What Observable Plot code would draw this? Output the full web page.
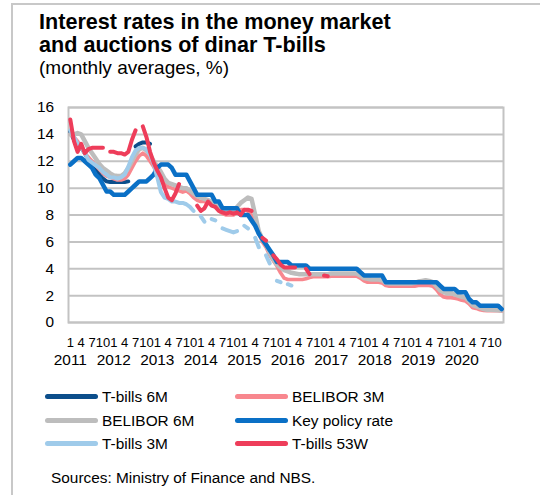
<!DOCTYPE html>
<html>
<head>
<meta charset="utf-8">
<script src="https://cdn.jsdelivr.net/npm/d3@7"></script>
<script src="https://cdn.jsdelivr.net/npm/@observablehq/plot@0.6"></script>
<style>
html,body{margin:0;padding:0;background:#fff;}
#fig{position:relative;width:540px;height:495px;overflow:hidden;font-family:"Liberation Sans",Arial,Helvetica,sans-serif;color:#000;}
#border{position:absolute;left:11px;top:3px;width:600px;height:600px;border-left:2px solid #c8c8c8;border-top:2px solid #c8c8c8;box-sizing:border-box;}
.t{position:absolute;white-space:nowrap;}
#title{left:39px;top:10px;font-size:21.6px;line-height:23px;font-weight:bold;}
#subtitle{left:39px;top:57.9px;font-size:19px;line-height:19px;}
#chart{position:absolute;left:0;top:95px;}
.leg{position:absolute;white-space:nowrap;font-size:15.4px;line-height:15.4px;}
.sw{position:absolute;height:5px;border-radius:2.5px;width:53px;}
#source{left:51px;top:470px;font-size:15.4px;line-height:15.4px;}
</style>
</head>
<body>
<div id="fig">
  <div id="border"></div>
  <div id="title" class="t">Interest rates in the money market<br>and auctions of dinar T-bills</div>
  <div id="subtitle" class="t">(monthly averages, %)</div>
  <div id="chart"></div>
  <div id="legend"></div>
  <div id="source" class="t">Sources: Ministry of Finance and NBS.</div>
</div>
<script>
// ---- Data: monthly, Jan 2011 .. Dec 2020 (120 months) ----
const years = ["2011","2012","2013","2014","2015","2016","2017","2018","2019","2020"];
const monthTickLabels = ["1","4","7","10"];
const yTicks = [0,2,4,6,8,10,12,14,16];
const N = null;

const tbills6M = [
  14.2,13.6,13.2,13.0,12.6,12.1,11.8,11.4,11.0,10.7,10.5,10.45,
  10.45,10.45,10.45,10.45,10.5,N,13.1,13.3,13.4,13.4,13.3,N,
  N,N,N,N,N,N,N,N,N,N,N,N,
  N,N,N,N,N,N,N,N,N,N,N,N,
  N,N,N,N,N,N,N,N,N,N,N,N,
  N,N,N,N,N,N,N,N,N,N,N,N,
  N,N,N,N,N,N,N,N,N,N,N,N,
  N,N,N,N,N,N,N,N,N,N,N,N,
  N,N,N,N,N,N,N,N,N,N,N,N,
  N,N,N,N,N,N,N,N,N,N,N,N
];
const belibor3M = [
  14.0,13.8,13.5,13.0,12.6,12.3,12.0,11.7,11.4,11.1,10.9,10.8,
  10.7,10.6,10.6,10.7,11.0,11.5,12.0,12.4,12.6,12.4,12.0,11.6,
  11.0,10.6,10.3,10.1,10.0,9.9,9.8,9.7,9.8,9.6,9.3,9.1,
  9.0,9.0,8.9,8.8,8.6,8.3,8.1,8.0,8.0,8.0,8.2,8.4,
  8.4,8.3,8.0,7.4,6.6,6.0,5.6,5.0,4.6,4.2,3.7,3.3,
  3.2,3.2,3.2,3.2,3.2,3.25,3.35,3.4,3.4,3.4,3.4,3.4,
  3.45,3.45,3.45,3.45,3.45,3.45,3.45,3.45,3.3,3.1,3.0,3.0,
  3.0,3.0,2.95,2.75,2.7,2.7,2.7,2.7,2.7,2.7,2.7,2.7,
  2.75,2.75,2.75,2.75,2.7,2.45,2.1,1.9,1.85,1.85,1.8,1.75,
  1.65,1.6,1.4,1.1,1.05,0.95,0.9,0.88,0.87,0.87,0.87,0.85
];
const belibor6M = [
  14.0,14.0,14.1,14.0,13.5,13.0,12.6,12.2,11.8,11.5,11.3,11.1,
  10.95,10.9,10.9,11.1,11.5,12.0,12.5,12.9,13.0,12.8,12.5,12.0,
  11.6,11.2,10.7,10.4,10.3,10.2,10.1,10.0,10.0,9.8,9.6,9.4,
  9.3,9.2,9.1,9.0,8.8,8.5,8.3,8.2,8.2,8.2,8.6,8.9,
  9.1,9.3,9.2,8.0,6.8,6.2,5.8,5.2,4.7,4.3,4.1,3.9,
  3.8,3.7,3.65,3.6,3.6,3.6,3.6,3.6,3.6,3.6,3.6,3.6,
  3.65,3.65,3.65,3.65,3.65,3.65,3.65,3.65,3.5,3.3,3.25,3.2,
  3.2,3.2,3.15,2.95,2.9,2.9,2.9,2.9,2.9,2.9,2.9,2.95,
  3.05,3.1,3.15,3.1,3.0,2.7,2.4,2.25,2.2,2.2,2.1,2.0,
  1.9,1.85,1.6,1.3,1.2,1.1,1.0,0.95,0.95,0.93,0.92,0.9
];
const keyPolicyRate = [
  11.75,12.0,12.25,12.25,12.0,11.75,11.5,11.0,10.75,10.25,9.75,9.75,
  9.5,9.5,9.5,9.5,9.75,10.0,10.25,10.5,10.5,10.5,10.75,11.0,
  11.5,11.75,11.75,11.75,11.5,11.0,11.0,11.0,11.0,10.5,10.0,9.5,
  9.5,9.5,9.5,9.5,9.0,9.0,8.5,8.5,8.5,8.5,8.5,8.0,
  8.0,8.0,7.6,7.2,6.6,6.2,5.8,5.4,5.0,4.5,4.5,4.5,
  4.5,4.25,4.25,4.25,4.25,4.25,4.0,4.0,4.0,4.0,4.0,4.0,
  4.0,4.0,4.0,4.0,4.0,4.0,4.0,4.0,3.75,3.5,3.5,3.5,
  3.5,3.5,3.5,3.0,3.0,3.0,3.0,3.0,3.0,3.0,3.0,3.0,
  3.0,3.0,3.0,3.0,3.0,3.0,2.75,2.5,2.5,2.5,2.5,2.25,
  2.25,2.25,1.75,1.5,1.5,1.25,1.25,1.25,1.25,1.25,1.25,1.0
];
const tbills3M = [
  14.3,13.8,13.3,13.0,12.6,12.1,11.9,11.7,11.5,11.2,11.0,10.8,
  10.8,10.7,10.8,11.0,11.6,12.3,12.8,13.0,13.0,12.9,12.5,11.8,
  10.8,9.7,9.3,9.2,9.0,9.0,8.9,8.9,8.8,8.6,8.3,N,
  7.9,7.5,N,7.7,7.6,N,7.0,6.9,6.8,6.7,6.8,N,
  7.2,7.0,N,6.3,5.6,N,5.0,4.4,N,3.1,3.0,N,
  2.85,2.75,N,N,N,N,N,N,N,N,N,N,
  N,N,N,N,N,N,N,N,N,N,N,N,
  N,N,N,N,N,N,N,N,N,N,N,N,
  N,N,N,N,N,N,N,N,N,N,N,N,
  N,N,N,N,N,N,N,N,N,N,N,N
];
const tbills53W = [
  15.1,13.5,12.7,13.3,12.6,12.9,13.0,13.0,13.0,13.0,N,12.7,
  12.7,12.6,12.6,12.5,12.7,13.6,14.3,N,14.6,13.8,12.7,11.9,
  11.3,10.8,10.0,9.3,9.1,9.6,10.3,N,N,N,N,8.7,
  8.3,8.5,9.0,8.7,8.6,8.3,8.2,8.1,8.2,8.1,8.2,8.0,
  8.4,8.4,8.3,N,N,6.3,6.1,N,5.0,4.7,4.3,4.1,
  4.1,4.1,4.1,N,N,4.0,3.6,N,N,N,3.5,3.45,
  N,N,N,N,N,N,N,N,N,N,N,N,
  N,N,N,N,N,N,N,N,N,N,N,N,
  N,N,N,N,N,N,N,N,N,N,N,N,
  N,N,N,N,N,N,N,N,N,N,N,N
];

const series = [
  {name:"T-bills 6M",      values:tbills6M,      color:"#0c4e8b", width:4},
  {name:"BELIBOR 3M",      values:belibor3M,     color:"#f8878e", width:3.6},
  {name:"BELIBOR 6M",      values:belibor6M,     color:"#bdbdbd", width:4.5},
  {name:"Key policy rate", values:keyPolicyRate, color:"#0a70c6", width:4.5},
  {name:"T-bills 3M",      values:tbills3M,      color:"#9fcbea", width:4},
  {name:"T-bills 53W",     values:tbills53W,     color:"#ee3d5a", width:4}
];

const months = d3.range(120);
const xTicks = d3.range(0, 120, 3);
const fs = 15.4;

const marks = [
  Plot.ruleY(yTicks, {stroke:"#c3c3c3", strokeWidth:2}),
  Plot.frame({stroke:"#c3c3c3", strokeWidth:2})
];
for (const s of series) {
  marks.push(Plot.line(months, {
    x: d => d,
    y: d => s.values[d],
    stroke: s.color,
    strokeWidth: s.width,
    strokeLinecap: "round",
    strokeLinejoin: "round"
  }));
}
// month tick labels (1, 4, 7, 10) under the frame
marks.push(Plot.text(xTicks, {
  x: d => d,
  text: d => monthTickLabels[(d % 12) / 3],
  frameAnchor: "bottom",
  lineAnchor: "top",
  dy: 15,
  fontSize: 13,
  fill: "#000"
}));
// year labels under January
marks.push(Plot.text(years, {
  x: (d, i) => i * 12,
  text: d => d,
  frameAnchor: "bottom",
  lineAnchor: "top",
  dy: 32,
  fontSize: fs,
  fill: "#000"
}));

const chart = Plot.plot({
  width: 540,
  height: 280,
  marginLeft: 68,
  marginRight: 37,
  marginTop: 12,
  marginBottom: 53,
  style: {fontFamily: "'Liberation Sans', Arial, sans-serif", fontSize: fs + "px", color: "#000", background: "transparent", overflow: "visible"},
  x: {domain: [-0.5, 119.5], axis: null},
  y: {domain: [0, 16], ticks: yTicks, tickSize: 0, tickPadding: 14.5, label: null},
  marks
});
document.getElementById("chart").appendChild(chart);

// ---- Legend ----
const legend = document.getElementById("legend");
const rowCenters = [396.8, 420.2, 443.6];
const colSwatchX = [45, 235];
const colTextX = [102, 292];
const legendOrder = [[0,1],[2,3],[4,5]];
legendOrder.forEach((row, r) => {
  row.forEach((si, c) => {
    const s = series[si];
    const sw = document.createElement("div");
    sw.className = "sw";
    sw.style.left = colSwatchX[c] + "px";
    sw.style.top = (rowCenters[r] - 2.5) + "px";
    sw.style.background = s.color;
    legend.appendChild(sw);
    const t = document.createElement("div");
    t.className = "leg";
    t.style.left = colTextX[c] + "px";
    t.style.top = (rowCenters[r] + 5.5 - 13.04) + "px";
    t.textContent = s.name;
    legend.appendChild(t);
  });
});
</script>
</body>
</html>
